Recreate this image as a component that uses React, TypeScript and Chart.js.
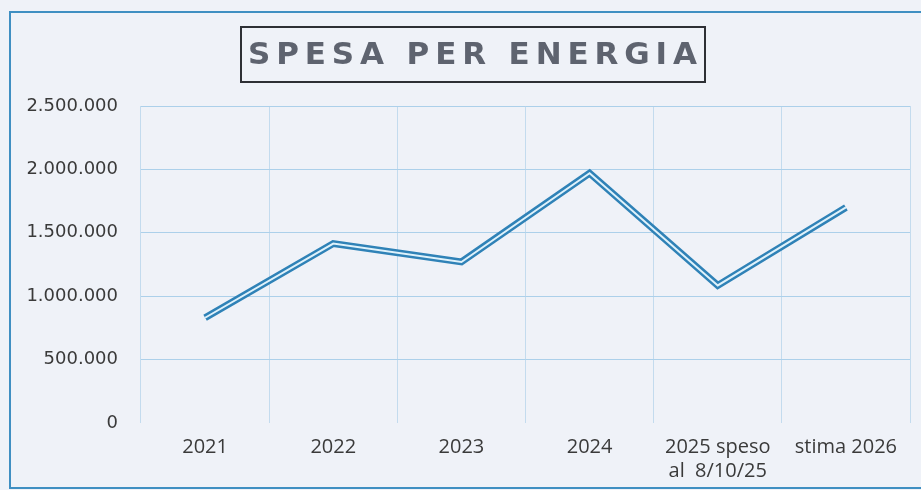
import React, { useEffect, useRef } from "react";
import { Chart, registerables } from "chart.js";

Chart.register(...registerables);

const categories: (string | string[])[] = [
  "2021",
  "2022",
  "2023",
  "2024",
  ["2025 speso", "al  8/10/25"],
  "stima 2026",
];
const spesa = [830000, 1415000, 1270000, 1970000, 1085000, 1700000];
const yTicks = [0, 500000, 1000000, 1500000, 2000000, 2500000];
const titleText = "SPESA PER ENERGIA";

const fmt = (v: number) => String(Math.round(v)).replace(/\B(?=(\d{3})+(?!\d))/g, ".");

const decorPlugin = {
  id: "decor",
  beforeDraw(chart: any) {
    const ctx = chart.ctx;
    ctx.save();
    ctx.fillStyle = "#eff2f8";
    ctx.fillRect(0, 0, chart.width, chart.height);
    ctx.strokeStyle = "#3f8fc2";
    ctx.lineWidth = 2;
    ctx.strokeRect(10, 12, chart.width + 20, 476);
    ctx.restore();
  },
  afterDraw(chart: any) {
    const ctx = chart.ctx;
    ctx.save();
    ctx.strokeStyle = "#2e3035";
    ctx.lineWidth = 2;
    ctx.strokeRect(241, 27, 464, 55);
    ctx.font = "bold 31px 'DejaVu Sans'";
    ctx.fillStyle = "#5e636f";
    ctx.textBaseline = "middle";
    ctx.textAlign = "left";
    const natural = ctx.measureText(titleText).width;
    const target = 449;
    const spacing = (target - natural) / (titleText.length - 1);
    (ctx as any).letterSpacing = spacing + "px";
    ctx.fillText(titleText, 248, 56);
    ctx.restore();
  },
};

export default function App() {
  const ref = useRef<HTMLCanvasElement | null>(null);
  useEffect(() => {
    if (!ref.current) return;
    const chart = new Chart(ref.current, {
      type: "line",
      data: {
        labels: categories,
        datasets: [
          {
            data: spesa,
            borderColor: "#dff2fb",
            borderWidth: 2,
            pointRadius: 0,
            tension: 0,
            borderJoinStyle: "miter",
            borderCapStyle: "butt",
          },
          {
            data: spesa,
            borderColor: "#2f82b7",
            borderWidth: 7,
            pointRadius: 0,
            tension: 0,
            borderJoinStyle: "miter",
            borderCapStyle: "butt",
          },
        ],
      },
      options: {
        responsive: false,
        animation: false,
        layout: { padding: { top: 106, right: 11, bottom: 0, left: 0 } },
        plugins: {
          legend: { display: false },
          tooltip: { enabled: false },
          title: { display: false },
        },
        scales: {
          x: {
            offset: true,
            grid: {
              offset: true,
              color: "#c3dbee",
              lineWidth: 1,
              drawTicks: false,
            },
            border: { display: false },
            ticks: {
              padding: 12,
              color: "#3a3a3a",
              font: { family: "'Open Sans'", size: 20, lineHeight: 1.2 },
              maxRotation: 0,
              autoSkip: false,
            },
            afterFit: (s: any) => {
              s.height = 67;
            },
          },
          y: {
            min: 0,
            max: 2500000,
            afterBuildTicks: (s: any) => {
              s.ticks = yTicks.map((v) => ({ value: v }));
            },
            grid: {
              color: (c: any) => (c.tick && c.tick.value === 0 ? "rgba(0,0,0,0)" : "#acd0ea"),
              lineWidth: 1,
              drawTicks: false,
            },
            border: { display: false },
            ticks: {
              padding: 23,
              color: "#3a3a3a",
              font: { family: "'DejaVu Sans'", size: 18 },
              callback: (v: any) => fmt(Number(v)),
            },
            afterFit: (s: any) => {
              s.width = 141;
            },
          },
        },
      },
      plugins: [decorPlugin],
    });
    return () => chart.destroy();
  }, []);
  return (
    <div style={{ position: "absolute", left: 0, top: 0, width: 921, height: 490 }}>
      <canvas ref={ref} width={921} height={490} />
    </div>
  );
}
